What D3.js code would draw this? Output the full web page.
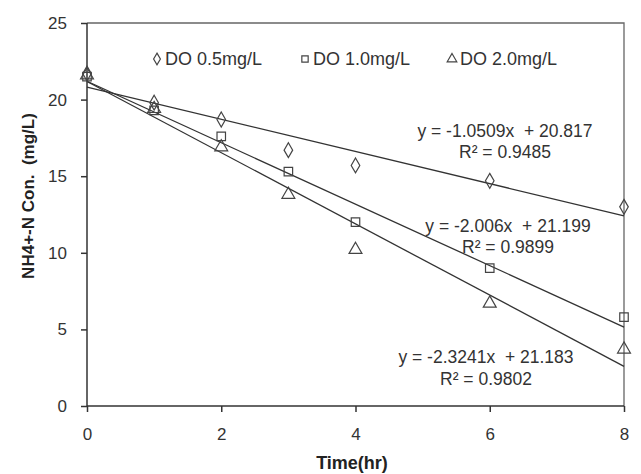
<!DOCTYPE html>
<html><head><meta charset="utf-8">
<script src="https://cdn.jsdelivr.net/npm/d3@7"></script>
<style>body{margin:0;background:#fff}svg{display:block}</style>
</head><body><svg id="c" width="641" height="474"></svg>
<script>
const times = [0, 1, 2, 3, 4, 6, 8];
const seriesNames = ["DO 0.5mg/L", "DO 1.0mg/L", "DO 2.0mg/L"];
const do05 = [21.7, 19.8, 18.7, 16.7, 15.7, 14.7, 13.0];
const do10 = [21.5, 19.3, 17.6, 15.3, 12.0, 9.0, 5.8];
const do20 = [21.6, 19.4, 16.9, 13.8, 10.2, 6.7, 3.7];
const slopes = [-1.0509, -2.006, -2.3241];
const intercepts = [20.817, 21.199, 21.183];
const r2 = ["0.9485", "0.9899", "0.9802"];
const eqLabels = ["y = -1.0509x  + 20.817", "y = -2.006x  + 21.199", "y = -2.3241x  + 21.183"];
const xTicks = [0, 2, 4, 6, 8];
const yTicks = [0, 5, 10, 15, 20, 25];

const svg = d3.select("#c");
const L = 87, R = 624, T = 23, B = 406;
const x = d3.scaleLinear().domain([0, 8]).range([L, R]);
const y = d3.scaleLinear().domain([0, 25]).range([B, T]);
const ink = "#333";
const font = "'Liberation Sans', Arial, sans-serif";

// frame (top & right)
svg.append("path").attr("d", `M${L},${T}H${R}V${B}`).attr("fill", "none").attr("stroke", "#666").attr("stroke-width", 1.3);

const yAxis = svg.append("g").attr("transform", `translate(${L},0)`)
  .call(d3.axisLeft(y).tickValues(yTicks).tickSize(6).tickPadding(14));
const xAxis = svg.append("g").attr("transform", `translate(0,${B})`)
  .call(d3.axisBottom(x).tickValues(xTicks).tickSize(6).tickPadding(16));
[xAxis, yAxis].forEach(g => {
  g.select(".domain").attr("stroke", ink).attr("stroke-width", 1.5);
  g.selectAll(".tick line").attr("stroke", ink).attr("stroke-width", 1.5);
  g.selectAll(".tick text").attr("fill", ink).style("font-family", font).style("font-size", "17px");
});
yAxis.select(".domain").attr("d", `M0,${B}V${T}`);
xAxis.select(".domain").attr("d", `M${L},0H${R}`);

// trendlines
slopes.forEach((m, i) => {
  svg.append("line")
    .attr("x1", x(0)).attr("y1", y(intercepts[i]))
    .attr("x2", x(8)).attr("y2", y(intercepts[i] + m * 8))
    .attr("stroke", "#333").attr("stroke-width", 1.3);
});

const sym = [d3.symbolDiamond, d3.symbolSquare, d3.symbolTriangle];
const sizes = [64, 72, 72];
const data = [do05, do10, do20];
data.forEach((vals, i) => {
  svg.append("g").selectAll("path").data(vals).join("path")
    .attr("transform", (d, j) => `translate(${x(times[j])},${y(d)})`)
    .attr("d", d3.symbol(sym[i], sizes[i]))
    .attr("fill", "none").attr("stroke", "#444").attr("stroke-width", 1.2);
});

// legend
const legX = [157, 305, 452];
seriesNames.forEach((n, i) => {
  svg.append("path").attr("transform", `translate(${legX[i]},59)`)
    .attr("d", d3.symbol(sym[i], 40)).attr("fill", "none").attr("stroke", "#444").attr("stroke-width", 1.2);
  svg.append("text").attr("x", legX[i] + 8).attr("y", 65).text(n)
    .attr("fill", ink).style("font-family", font).style("font-size", "18px").style("white-space", "pre");
});

// equation labels
const eqPos = [[505, 137, 158], [508, 232, 253], [486, 363, 385]];
eqLabels.forEach((t, i) => {
  const [cx, y1, y2] = eqPos[i];
  svg.append("text").attr("x", cx).attr("y", y1).attr("text-anchor", "middle").text(t)
    .attr("fill", ink).style("font-family", font).style("font-size", "17.5px").style("white-space", "pre");
  svg.append("text").attr("x", cx).attr("y", y2).attr("text-anchor", "middle").text("R² = " + r2[i])
    .attr("fill", ink).style("font-family", font).style("font-size", "17.5px");
});

// axis titles
svg.append("text").attr("x", 352).attr("y", 469).attr("text-anchor", "middle").text("Time(hr)")
  .attr("fill", "#222").style("font-family", font).style("font-size", "18px").style("font-weight", "bold");
svg.append("text").attr("transform", "translate(34,196) rotate(-90)").attr("text-anchor", "middle")
  .text("NH4+-N Con.  (mg/L)").style("white-space", "pre")
  .attr("fill", "#222").style("font-family", font).style("font-size", "17px").style("font-weight", "bold");
</script></body></html>
